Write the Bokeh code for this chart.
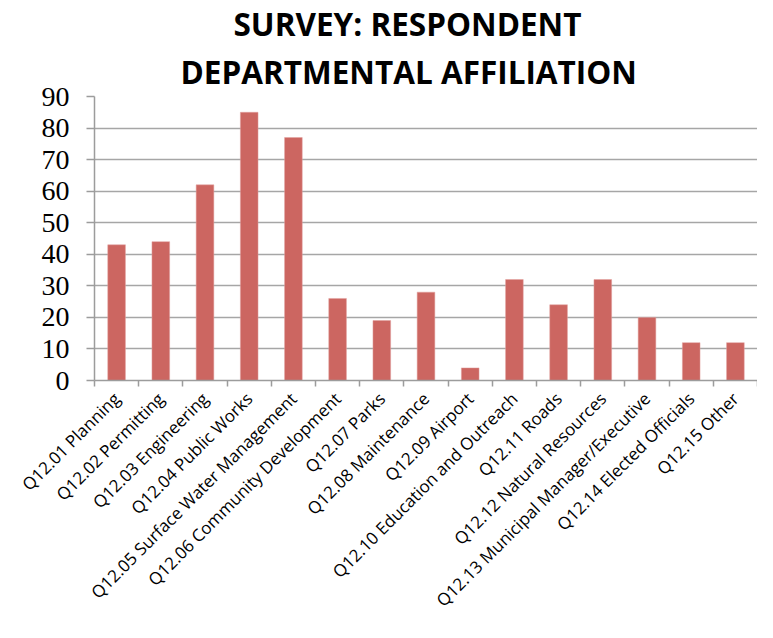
import math
from bokeh.plotting import figure
from bokeh.models import ColumnDataSource, Range1d, FixedTicker, Title
from bokeh.embed import file_html
from bokeh.resources import INLINE

categories = ["Q12.01 Planning", "Q12.02 Permitting", "Q12.03 Engineering",
              "Q12.04 Public Works", "Q12.05 Surface Water Management",
              "Q12.06 Community Development", "Q12.07 Parks", "Q12.08 Maintenance",
              "Q12.09 Airport", "Q12.10 Education and Outreach", "Q12.11 Roads",
              "Q12.12 Natural Resources", "Q12.13 Municipal Manager/Executive",
              "Q12.14 Elected Officials", "Q12.15 Other"]
counts = [43, 44, 62, 85, 77, 26, 19, 28, 4, 32, 24, 32, 20, 12, 12]
y_ticks = [0, 10, 20, 30, 40, 50, 60, 70, 80, 90]
title_lines = ["SURVEY: RESPONDENT", "DEPARTMENTAL AFFILIATION"]
title_offsets = [139, 86]  # left offsets (px) so each line sits centred like the original

n = len(categories)
pos = [i + 0.5 for i in range(n)]  # category centres on a 0..n axis
src = ColumnDataSource(dict(x=pos, cat=categories, val=counts))

p = figure(width=757, height=622, output_backend="svg", toolbar_location=None,
           x_range=Range1d(0, n), y_range=Range1d(0, 90), title=None,
           min_border_left=94, min_border_right=0, min_border_bottom=240,
           min_border_top=10)

# title: line closest to the plot is added first
for i, (line, off) in enumerate(reversed(list(zip(title_lines, title_offsets)))):
    p.add_layout(Title(text=line, align="left", text_font="Open Sans",
                       text_font_style="bold", text_font_size="31.5px",
                       text_color="black", standoff=(8 if i == 0 else -2),
                       offset=off), "above")

p.vbar(x="x", top="val", width=0.4, source=src, fill_color="#CC6661",
       line_color="#E3A3A0", line_width=0.5)

xa = p.xaxis[0]
xa.ticker = FixedTicker(ticks=pos, minor_ticks=list(range(n + 1)))
xa.major_label_overrides = {x: c for x, c in zip(pos, categories)}
xa.major_label_orientation = math.pi / 4
xa.major_label_text_font = "Open Sans"
xa.major_label_text_font_size = "17px"
xa.major_label_text_color = "black"
xa.major_label_standoff = 9
xa.major_tick_line_color = None
xa.minor_tick_out = 6
xa.minor_tick_in = 0
xa.minor_tick_line_color = "#9C9C9C"
xa.minor_tick_line_width = 1.5
xa.axis_line_color = "#9C9C9C"
xa.axis_line_width = 1.5

ya = p.yaxis[0]
ya.ticker = FixedTicker(ticks=y_ticks, minor_ticks=[])
ya.major_label_text_font = "Liberation Serif"
ya.major_label_text_font_size = "28px"
ya.major_label_text_color = "black"
ya.major_label_standoff = 17
ya.major_tick_out = 8
ya.major_tick_in = 0
ya.major_tick_line_color = "#9C9C9C"
ya.major_tick_line_width = 1.5
ya.axis_line_color = "#9C9C9C"
ya.axis_line_width = 1.5
ya.minor_tick_line_color = None

p.ygrid.grid_line_color = "#A6A6A6"
p.ygrid.grid_line_width = 1.5
p.ygrid.ticker = FixedTicker(ticks=y_ticks)
p.xgrid.grid_line_color = None
p.outline_line_color = None

open("out.html", "w").write(file_html(p, INLINE))
